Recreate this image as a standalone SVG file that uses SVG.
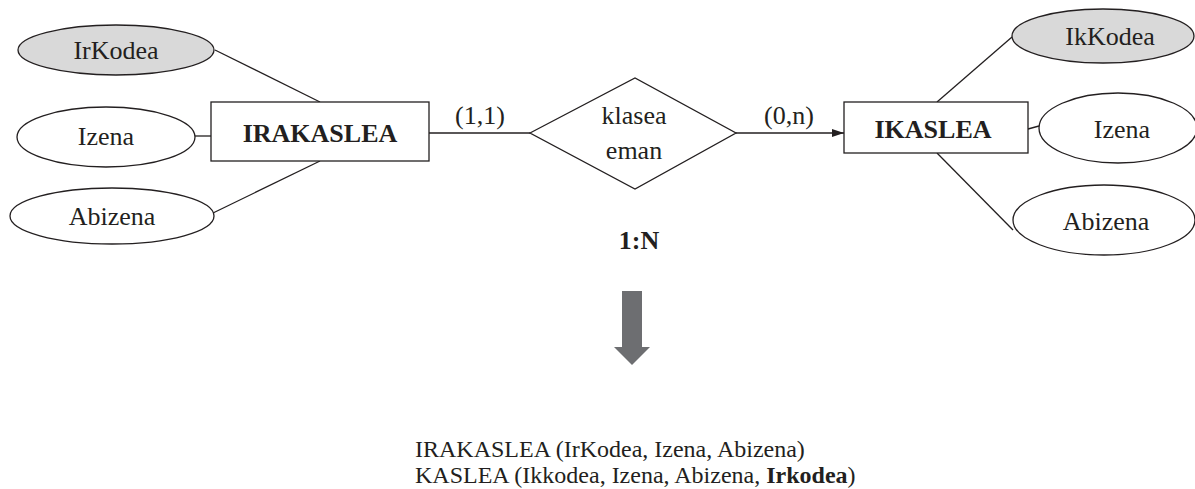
<svg xmlns="http://www.w3.org/2000/svg" width="1195" height="489" viewBox="0 0 1195 489">
  <defs>
    <style>
      .t { font-family: "Liberation Serif", "Times New Roman", serif; font-size: 26px; fill: #231f20; }
      .tb { font-weight: bold; }
      .mid { text-anchor: middle; }
      .attr { fill: #ffffff; stroke: #231f20; stroke-width: 1.3; }
      .key { fill: #d9d9d9; stroke: #231f20; stroke-width: 1.3; }
      .ent { fill: #ffffff; stroke: #231f20; stroke-width: 1.3; }
      .ln { stroke: #231f20; stroke-width: 1.3; fill: none; }
      .sm { font-size: 24px; }
    </style>
    <marker id="arrow" viewBox="0 0 12 8" refX="12" refY="4" markerWidth="12" markerHeight="8" markerUnits="userSpaceOnUse" orient="auto">
      <path d="M0,0 L12,4 L0,8 Z" fill="#231f20"/>
    </marker>
  </defs>

  <rect width="1195" height="489" fill="#ffffff"/>

  <!-- connectors -->
  <g id="connectors">
    <line class="ln" x1="215" y1="50" x2="320" y2="102"/>
    <line class="ln" x1="195" y1="136" x2="211" y2="136"/>
    <line class="ln" x1="213" y1="213" x2="320" y2="161"/>
    <line class="ln" x1="429" y1="133" x2="530" y2="133"/>
    <line class="ln" x1="736" y1="133" x2="844" y2="133" marker-end="url(#arrow)"/>
    <line class="ln" x1="1012" y1="37" x2="937" y2="102"/>
    <line class="ln" x1="1028" y1="129" x2="1039" y2="126"/>
    <line class="ln" x1="937" y1="153" x2="1013" y2="230"/>
    <text class="t" x="480" y="124" text-anchor="middle">(1,1)</text>
    <text class="t" x="789" y="124" text-anchor="middle">(0,n)</text>
  </g>

  <!-- IRAKASLEA entity and attributes -->
  <g id="irakaslea">
    <rect class="ent" x="211" y="102" width="218" height="59"/>
    <text class="t tb mid" x="320" y="142">IRAKASLEA</text>
  </g>
  <g id="irkodea">
    <ellipse class="key" cx="116" cy="50" rx="98" ry="25"/>
    <text class="t mid" x="116" y="59">IrKodea</text>
  </g>
  <g id="izena-1">
    <ellipse class="attr" cx="106" cy="137" rx="89" ry="30"/>
    <text class="t mid" x="106" y="145">Izena</text>
  </g>
  <g id="abizena-1">
    <ellipse class="attr" cx="112" cy="216" rx="102" ry="28"/>
    <text class="t mid" x="112" y="225">Abizena</text>
  </g>

  <!-- relationship -->
  <g id="klasea-eman">
    <polygon class="ent" points="530,133 635,78 736,133 635,189"/>
    <text class="t mid" x="634" y="124">klasea</text>
    <text class="t mid" x="634" y="159">eman</text>
  </g>

  <!-- IKASLEA entity and attributes -->
  <g id="ikaslea">
    <rect class="ent" x="844" y="102" width="184" height="51"/>
    <text class="t tb mid" x="933" y="138">IKASLEA</text>
  </g>
  <g id="ikkodea">
    <ellipse class="key" cx="1103" cy="36" rx="91" ry="27"/>
    <text class="t mid" x="1110" y="45">IkKodea</text>
  </g>
  <g id="izena-2">
    <ellipse class="attr" cx="1118" cy="128" rx="79" ry="35"/>
    <text class="t mid" x="1122" y="138">Izena</text>
  </g>
  <g id="abizena-2">
    <ellipse class="attr" cx="1104" cy="220" rx="91" ry="35"/>
    <text class="t mid" x="1106" y="230">Abizena</text>
  </g>

  <!-- cardinality -->
  <g id="cardinality">
    <text class="t tb mid" x="639" y="249">1:N</text>
  </g>

  <!-- transformation arrow -->
  <g id="down-arrow">
    <polygon points="622,291 642,291 642,347 650,347 632,365 614,347 622,347" fill="#6d6e71"/>
  </g>

  <!-- resulting relational schema -->
  <g id="schema">
    <text class="t sm" x="415" y="457">IRAKASLEA (IrKodea, Izena, Abizena)</text>
    <text class="t sm" x="415" y="483">KASLEA (Ikkodea, Izena, Abizena, <tspan font-weight="bold">Irkodea</tspan>)</text>
  </g>
</svg>
